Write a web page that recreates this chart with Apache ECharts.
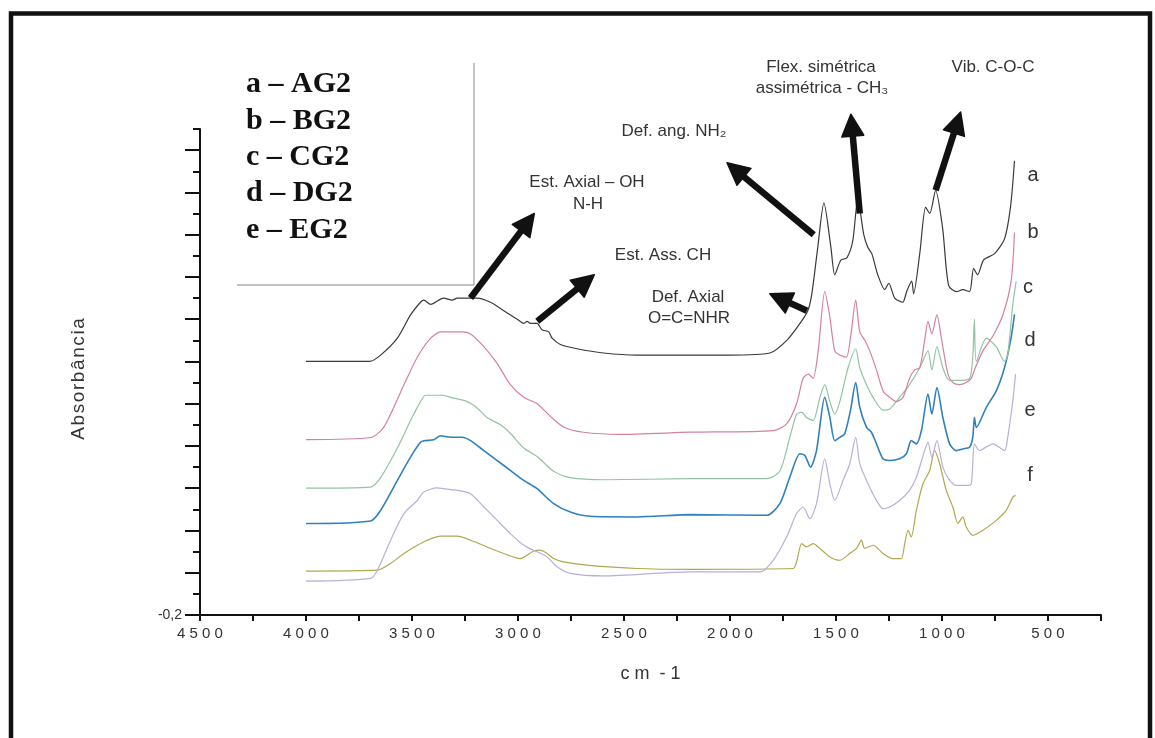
<!DOCTYPE html>
<html>
<head>
<meta charset="utf-8">
<title>Espectros FTIR</title>
<script src="https://cdn.jsdelivr.net/npm/echarts@6/dist/echarts.min.js"></script>
<style>
  html, body { margin: 0; padding: 0; background: #fff; }
  #chart { width: 1155px; height: 738px; }
</style>
</head>
<body>
<div id="chart"></div>
<script>
// [wavenumber cm-1, absorbance], one array per spectrum
const specA = [[4000,1.00],[3700,1.00],[3648,1.03],[3569,1.11],[3507,1.22],[3460,1.28],[3444,1.29],[3412,1.27],[3351,1.30],[3310,1.29],[3287,1.30],[3224,1.30],[3193,1.30],[3130,1.28],[3067,1.24],[3004,1.20],[2973,1.18],[2957,1.19],[2942,1.18],[2910,1.18],[2887,1.15],[2855,1.14],[2839,1.11],[2800,1.08],[2722,1.06],[2597,1.04],[2439,1.03],[2188,1.03],[2000,1.03],[1812,1.04],[1732,1.10],[1670,1.18],[1633,1.24],[1614,1.32],[1586,1.54],[1557,1.75],[1524,1.54],[1506,1.41],[1477,1.48],[1449,1.49],[1421,1.57],[1397,1.77],[1369,1.60],[1350,1.54],[1331,1.51],[1303,1.41],[1270,1.34],[1251,1.37],[1223,1.30],[1185,1.28],[1167,1.33],[1143,1.38],[1134,1.32],[1105,1.51],[1077,1.73],[1058,1.70],[1030,1.81],[997,1.63],[969,1.36],[931,1.33],[903,1.34],[870,1.33],[851,1.44],[832,1.41],[804,1.48],[752,1.51],[705,1.58],[677,1.73],[658,1.95]];
const specB = [[4000,0.63],[3695,0.64],[3632,0.69],[3538,0.89],[3475,1.02],[3412,1.11],[3365,1.14],[3263,1.14],[3224,1.13],[3161,1.07],[3098,0.99],[3036,0.89],[2973,0.83],[2910,0.80],[2847,0.74],[2785,0.69],[2691,0.665],[2518,0.655],[2188,0.665],[1796,0.673],[1733,0.704],[1686,0.80],[1655,0.92],[1631,0.94],[1608,0.92],[1584,1.05],[1553,1.33],[1529,1.21],[1506,1.05],[1482,1.03],[1451,1.02],[1432,1.11],[1407,1.29],[1388,1.14],[1364,1.10],[1341,1.05],[1309,0.96],[1278,0.86],[1247,0.83],[1215,0.81],[1184,0.83],[1153,0.92],[1129,0.96],[1105,0.97],[1082,1.10],[1066,1.19],[1048,1.13],[1024,1.22],[1003,1.11],[972,0.94],[949,0.90],[917,0.89],[886,0.90],[862,0.92],[847,0.96],[807,1.05],[760,1.12],[713,1.22],[674,1.38],[658,1.61]];
const specC = [[4000,0.40],[3695,0.405],[3648,0.45],[3569,0.59],[3507,0.72],[3460,0.81],[3436,0.84],[3381,0.84],[3357,0.84],[3318,0.83],[3240,0.81],[3193,0.78],[3146,0.735],[3083,0.70],[3036,0.66],[2973,0.59],[2910,0.55],[2832,0.48],[2753,0.45],[2597,0.44],[2188,0.445],[1827,0.445],[1765,0.48],[1718,0.64],[1686,0.75],[1662,0.76],[1639,0.735],[1608,0.72],[1576,0.83],[1553,0.89],[1529,0.81],[1506,0.75],[1482,0.81],[1443,0.97],[1407,1.06],[1388,0.97],[1356,0.89],[1325,0.83],[1278,0.77],[1247,0.775],[1200,0.83],[1153,0.89],[1105,0.97],[1066,1.05],[1048,0.96],[1024,1.07],[996,0.97],[964,0.91],[917,0.91],[870,0.92],[855,1.02],[847,1.20],[838,1.00],[791,1.11],[744,1.07],[705,1.00],[690,1.03],[666,1.27],[650,1.38]];
const specD = [[4000,0.233],[3695,0.245],[3648,0.295],[3569,0.437],[3507,0.547],[3460,0.617],[3444,0.625],[3397,0.629],[3365,0.648],[3318,0.641],[3263,0.641],[3224,0.625],[3161,0.578],[3098,0.531],[3036,0.484],[2973,0.437],[2910,0.398],[2832,0.327],[2753,0.287],[2659,0.267],[2439,0.264],[2188,0.275],[1827,0.272],[1765,0.327],[1718,0.452],[1670,0.563],[1647,0.555],[1620,0.50],[1592,0.578],[1553,0.83],[1529,0.735],[1506,0.625],[1482,0.641],[1459,0.657],[1432,0.767],[1407,0.90],[1388,0.783],[1356,0.688],[1333,0.665],[1309,0.61],[1278,0.539],[1247,0.531],[1200,0.539],[1168,0.563],[1145,0.625],[1121,0.61],[1097,0.673],[1066,0.846],[1048,0.751],[1024,0.877],[996,0.735],[964,0.61],[933,0.578],[902,0.586],[870,0.594],[855,0.641],[847,0.735],[838,0.688],[791,0.783],[744,0.861],[705,0.971],[674,1.113],[658,1.223]];
const specE = [[4000,-0.04],[3695,-0.027],[3663,0.012],[3601,0.154],[3538,0.28],[3475,0.342],[3444,0.382],[3381,0.402],[3350,0.398],[3287,0.39],[3224,0.374],[3161,0.311],[3098,0.248],[3036,0.185],[2973,0.13],[2910,0.099],[2863,0.075],[2816,0.028],[2753,-0.003],[2597,-0.015],[2188,0.004],[1859,0.004],[1796,0.059],[1733,0.169],[1686,0.28],[1655,0.311],[1623,0.256],[1592,0.327],[1553,0.539],[1529,0.421],[1506,0.342],[1467,0.437],[1435,0.516],[1407,0.641],[1388,0.516],[1356,0.437],[1309,0.342],[1278,0.303],[1247,0.311],[1200,0.342],[1153,0.39],[1121,0.452],[1082,0.578],[1066,0.617],[1048,0.547],[1024,0.625],[996,0.50],[964,0.437],[933,0.413],[886,0.413],[862,0.421],[847,0.61],[823,0.578],[760,0.61],[705,0.578],[690,0.641],[666,0.814],[653,0.94]];
const specF = [[4000,0.008],[3663,0.012],[3601,0.044],[3538,0.091],[3475,0.13],[3428,0.154],[3365,0.173],[3287,0.173],[3224,0.154],[3146,0.122],[3067,0.091],[2989,0.067],[2957,0.083],[2926,0.103],[2895,0.107],[2863,0.091],[2832,0.067],[2785,0.051],[2675,0.036],[2439,0.02],[2188,0.016],[1702,0.02],[1686,0.051],[1662,0.138],[1639,0.122],[1608,0.138],[1576,0.115],[1529,0.075],[1482,0.059],[1435,0.091],[1403,0.115],[1380,0.154],[1365,0.115],[1325,0.13],[1278,0.091],[1231,0.067],[1192,0.067],[1176,0.138],[1160,0.201],[1145,0.169],[1121,0.295],[1090,0.421],[1058,0.484],[1035,0.578],[1011,0.516],[980,0.39],[949,0.311],[925,0.233],[902,0.264],[886,0.217],[855,0.177],[807,0.201],[744,0.248],[697,0.295],[666,0.358],[653,0.366]];

const seriesNames = ['a', 'b', 'c', 'd', 'e', 'f'];
const seriesColors = ['#3a3a3a', '#d6819c', '#92c4a2', '#2f80bf', '#bbaed8', '#b0a84f'];
const spectra = [specA, specB, specC, specD, specE, specF];

const legendLines = ['a – AG2', 'b – BG2', 'c – CG2', 'd – DG2', 'e – EG2'];
const yMajorTicks = [-0.2, 0, 0.2, 0.4, 0.6, 0.8, 1.0, 1.2, 1.4, 1.6, 1.8, 2.0];

// band assignments: arrow tail (on the spectrum) and head, in [cm-1, absorbance]
const arrows = [
  [[3224, 1.30], [2923, 1.70]],
  [[2909, 1.19], [2640, 1.41]],
  [[1605, 1.60], [2014, 1.94]],
  [[1637, 1.24], [1812, 1.32]],
  [[1388, 1.70], [1430, 2.17]],
  [[1030, 1.81], [912, 2.18]]
];

const sans = 'Liberation Sans, Arial, sans-serif';
const serif = 'Liberation Serif, Times New Roman, serif';

// one rich token per character, so the scanned letter spacing can be kept
function spaced(str) {
  return str.split('').map(c => (c === ' ' ? '{s| }' : '{d|' + c + '}')).join('');
}

const chart = echarts.init(document.getElementById('chart'));

chart.setOption({
  animation: false,
  backgroundColor: '#fff',
  grid: { left: 200, right: 54, top: 129, bottom: 123 },
  xAxis: {
    type: 'value',
    min: 250,
    max: 4500,
    inverse: true,
    interval: 250,
    name: spaced('cm -1'),
    nameLocation: 'middle',
    nameGap: 50,
    nameTextStyle: {
      rich: {
        d: { padding: [0, 2.5], fontSize: 18, color: '#333', fontFamily: sans },
        s: { fontSize: 18, fontFamily: sans }
      }
    },
    axisLine: { onZero: false, lineStyle: { color: '#111', width: 2 } },
    axisTick: { length: 6, lineStyle: { color: '#111', width: 2 } },
    axisLabel: {
      margin: 11,
      formatter: v => (v % 500 === 0 ? spaced(String(v)) : ''),
      rich: { d: { width: 12.5, align: 'center', fontSize: 15, color: '#333', fontFamily: sans } }
    },
    splitLine: { show: false }
  },
  yAxis: [
    {
      type: 'value',
      position: 'left',
      min: -0.2,
      max: 2.1,
      interval: 0.1,
      name: spaced('Absorbância'),
      nameLocation: 'middle',
      nameGap: 112,
      nameTextStyle: {
        padding: [0, 14, 0, 0],
        rich: { d: { padding: [0, 0.8], fontSize: 19, color: '#333', fontFamily: sans } }
      },
      axisLine: { onZero: false, lineStyle: { color: '#111', width: 2 } },
      axisTick: { length: 7, lineStyle: { color: '#111', width: 2 } },
      axisLabel: {
        margin: 18,
        fontSize: 14,
        color: '#333',
        fontFamily: sans,
        formatter: v => (Math.abs(v + 0.2) < 1e-9 ? '-0,2' : '')
      },
      splitLine: { show: false }
    },
    {
      type: 'value',
      position: 'left',
      offset: 0,
      min: -0.2,
      max: 2.1,
      interval: 0.2,
      axisLine: { show: false, onZero: false },
      axisTick: { length: 15, customValues: yMajorTicks, lineStyle: { color: '#111', width: 2 } },
      axisLabel: { show: false },
      splitLine: { show: false }
    }
  ],
  series: spectra.map((d, i) => ({
    name: seriesNames[i],
    type: 'line',
    data: d,
    showSymbol: false,
    smooth: 0.25,
    lineStyle: { color: seriesColors[i], width: i === 3 ? 1.6 : 1.2 },
    z: 10 - i
  }))
});

function arrowElements(from, to) {
  const p0 = chart.convertToPixel({ xAxisIndex: 0, yAxisIndex: 0 }, from);
  const p1 = chart.convertToPixel({ xAxisIndex: 0, yAxisIndex: 0 }, to);
  const dx = p1[0] - p0[0], dy = p1[1] - p0[1];
  const len = Math.hypot(dx, dy);
  const ux = dx / len, uy = dy / len;
  const headLen = 22, headHalf = 11;
  const bx = p1[0] - ux * headLen, by = p1[1] - uy * headLen;
  return [
    {
      type: 'line', z: 100,
      shape: { x1: p0[0], y1: p0[1], x2: bx + ux * 4, y2: by + uy * 4 },
      style: { stroke: '#111', lineWidth: 6.5 }
    },
    {
      type: 'polygon', z: 100,
      shape: { points: [[p1[0], p1[1]], [bx - uy * headHalf, by + ux * headHalf], [bx + uy * headHalf, by - ux * headHalf]] },
      style: { fill: '#111', stroke: '#111', lineWidth: 1.5, lineJoin: 'round' }
    }
  ];
}

function note(text, x, y, size) {
  return {
    type: 'text', x: x, y: y, z: 100,
    style: { text: text, fill: '#333', font: (size || 17) + 'px ' + sans, align: 'center', verticalAlign: 'middle' }
  };
}

const legendY = [84, 121, 157, 193, 230];
const curveLabelPos = [[1033, 175], [1033, 232], [1028, 287], [1030, 340], [1030, 410], [1030, 475]];

const graphics = [
  {
    type: 'rect', z: 100,
    shape: { x: 11, y: 13.5, width: 1139, height: 800 },
    style: { fill: 'none', stroke: '#111', lineWidth: 4.5 }
  },
  { type: 'line', z: 100, shape: { x1: 474, y1: 63, x2: 474, y2: 285 }, style: { stroke: '#888', lineWidth: 1 } },
  { type: 'line', z: 100, shape: { x1: 237, y1: 285, x2: 474, y2: 285 }, style: { stroke: '#888', lineWidth: 1 } },
  note('Flex. simétrica', 821, 67),
  note('assimétrica - CH₃', 822, 88),
  note('Vib. C-O-C', 993, 67),
  note('Def. ang. NH₂', 674, 131),
  note('Est. Axial – OH', 587, 182),
  note('N-H', 588, 204),
  note('Est. Ass. CH', 663, 255),
  note('Def. Axial', 688, 297),
  note('O=C=NHR', 689, 318)
];

legendLines.forEach((t, i) => {
  graphics.push({
    type: 'text', x: 246, y: legendY[i], z: 100,
    style: { text: t, fill: '#111', font: 'bold 30px ' + serif, align: 'left', verticalAlign: 'middle' }
  });
});

seriesNames.forEach((n, i) => {
  graphics.push(note(n, curveLabelPos[i][0], curveLabelPos[i][1], 20));
});

arrows.forEach(a => { graphics.push(...arrowElements(a[0], a[1])); });

chart.setOption({ graphic: { elements: graphics } });
</script>
</body>
</html>
